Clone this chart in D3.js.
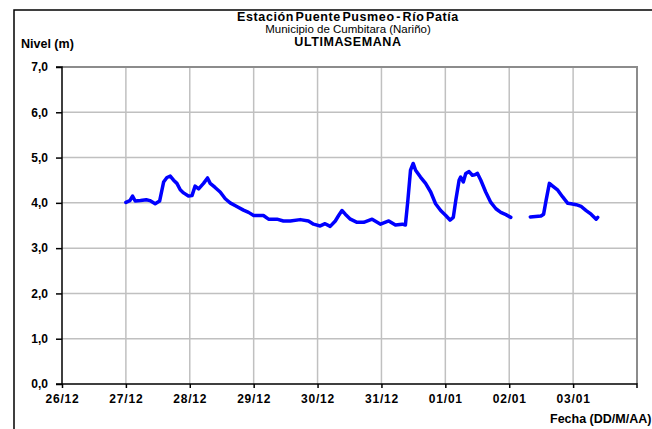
<html lang='es'>
    <head>
        <meta charset="utf-8">
        <title>Estación Puente Pusmeo</title>
        <script src="https://d3js.org/d3.v7.min.js" charset="utf-8"></script>
        <style>
        body{
          margin: 0;
          background: #fff;
          font-family: Arial, "Liberation Sans", sans-serif;
        }
        .tit { font-size: 11.5px; text-anchor: middle; }
        .bold { font-weight: bold; font-size: 12.5px; letter-spacing: 0.6px; }
        .axis text { font-size: 12px; font-weight: bold; font-family: Arial, "Liberation Sans", sans-serif; fill: #000; }
        .xaxis text { letter-spacing: 0.8px; }
        </style>
    </head>

    <body>
        <script>
            //Data (fecha / nivel en metros); null = sin datos
            var fechas = [
              "2016-12-27 00:00","2016-12-27 01:30","2016-12-27 02:30","2016-12-27 03:30","2016-12-27 05:30",
              "2016-12-27 07:40","2016-12-27 09:00","2016-12-27 11:00","2016-12-27 12:40","2016-12-27 14:10",
              "2016-12-27 15:25","2016-12-27 16:40","2016-12-27 17:55","2016-12-27 19:10","2016-12-27 20:25",
              "2016-12-27 21:40","2016-12-27 23:30","2016-12-28 00:50","2016-12-28 02:00","2016-12-28 03:20",
              "2016-12-28 05:10","2016-12-28 06:40","2016-12-28 07:40","2016-12-28 09:30","2016-12-28 11:25",
              "2016-12-28 13:20","2016-12-28 15:10","2016-12-28 17:40","2016-12-28 20:10","2016-12-28 22:05",
              "2016-12-29 00:00","2016-12-29 01:50","2016-12-29 03:40","2016-12-29 05:35","2016-12-29 08:45",
              "2016-12-29 11:10","2016-12-29 13:45","2016-12-29 17:30","2016-12-29 20:35","2016-12-29 22:30",
              "2016-12-30 01:00","2016-12-30 02:50","2016-12-30 04:45","2016-12-30 06:40","2016-12-30 07:55",
              "2016-12-30 09:10","2016-12-30 10:25","2016-12-30 12:20","2016-12-30 14:50","2016-12-30 17:20",
              "2016-12-30 20:30","2016-12-30 23:40","2016-12-31 02:45","2016-12-31 05:15","2016-12-31 07:50",
              "2016-12-31 09:00","2016-12-31 09:55","2016-12-31 10:55","2016-12-31 11:55","2016-12-31 12:50",
              "2016-12-31 14:40","2016-12-31 16:35","2016-12-31 18:30","2016-12-31 20:20","2016-12-31 22:15",
              "2017-01-01 00:10","2017-01-01 01:45","2017-01-01 03:00","2017-01-01 03:55","2017-01-01 05:10",
              "2017-01-01 05:45","2017-01-01 06:45","2017-01-01 07:40","2017-01-01 08:55","2017-01-01 10:10",
              "2017-01-01 11:05","2017-01-01 12:05","2017-01-01 13:20","2017-01-01 15:10","2017-01-01 17:05",
              "2017-01-01 19:00","2017-01-01 20:50","2017-01-01 22:45","2017-01-02 00:35","2017-01-02 04:00",
              "2017-01-02 07:55","2017-01-02 11:55","2017-01-02 12:55","2017-01-02 13:50","2017-01-02 15:05",
              "2017-01-02 16:20","2017-01-02 18:15","2017-01-02 20:05","2017-01-02 22:00","2017-01-02 23:15",
              "2017-01-03 01:10","2017-01-03 03:00","2017-01-03 04:55","2017-01-03 06:45","2017-01-03 08:40",
              "2017-01-03 09:15"
            ];
            var niveles = [
              4.01,4.05,4.15,4.04,4.05,
              4.07,4.05,3.98,4.04,4.46,
              4.56,4.59,4.50,4.43,4.29,
              4.22,4.15,4.16,4.37,4.31,
              4.43,4.55,4.43,4.34,4.24,
              4.09,4.00,3.92,3.84,3.79,
              3.72,3.72,3.72,3.64,3.64,
              3.60,3.60,3.63,3.60,3.53,
              3.49,3.54,3.48,3.60,3.72,
              3.83,3.75,3.64,3.57,3.57,
              3.64,3.53,3.60,3.51,3.53,
              3.51,4.05,4.72,4.87,4.72,
              4.57,4.43,4.24,3.98,3.83,
              3.72,3.62,3.68,4.05,4.50,
              4.57,4.46,4.65,4.69,4.61,
              4.62,4.65,4.50,4.24,4.01,
              3.87,3.79,3.74,3.68,null,
              3.69,3.71,3.75,4.05,4.43,
              4.37,4.28,4.13,3.99,3.98,
              3.96,3.92,3.83,3.75,3.64,
              3.68
            ];
            var yTicks = [0, 1, 2, 3, 4, 5, 6, 7];
            var xDomain = ["2016-12-26 00:00", "2017-01-04 00:00"];
            var titulos = ["Estación Puente Pusmeo - Río Patía", "Municipio de Cumbitara (Nariño)", "ULTIMA SEMANA"];

            var width = 652, height = 429;
            var mLeft = 62, mRight = 637, mTop = 67, mBottom = 384;

            var parse = d3.timeParse("%Y-%m-%d %H:%M");
            var datos = fechas.map(function(f, i){ return {t: parse(f), v: niveles[i]}; });

            var svg = d3.select("body").append("svg")
                        .attr("width", width)
                        .attr("height", height);

            var x = d3.scaleTime()
                      .domain(xDomain.map(parse))
                      .range([mLeft, mRight]);
            var y = d3.scaleLinear()
                      .domain([0, 7])
                      .range([mBottom, mTop]);

            //marco exterior
            svg.append("rect")
               .attr("x", 14).attr("y", 10)
               .attr("width", 700).attr("height", 500)
               .attr("fill", "none")
               .attr("stroke", "#000")
               .attr("stroke-width", 1.5);

            //grilla
            var dias = d3.timeDay.range(x.domain()[0], d3.timeDay.offset(x.domain()[1], 1));
            svg.append("g").selectAll("line")
               .data(dias.slice(1, -1))
               .enter().append("line")
               .attr("x1", function(d){ return x(d); })
               .attr("x2", function(d){ return x(d); })
               .attr("y1", mTop).attr("y2", mBottom)
               .attr("stroke", "#c0c0c0").attr("stroke-width", 1.5);
            svg.append("g").selectAll("line")
               .data(yTicks.slice(1, -1))
               .enter().append("line")
               .attr("x1", mLeft).attr("x2", mRight)
               .attr("y1", function(d){ return y(d); })
               .attr("y2", function(d){ return y(d); })
               .attr("stroke", "#c0c0c0").attr("stroke-width", 1.5);

            //borde superior y derecho del area
            svg.append("path")
               .attr("d", "M" + mLeft + "," + y(7) + "H" + x(x.domain()[1]) + "V" + mBottom)
               .attr("fill", "none")
               .attr("stroke", "#8c8c8c")
               .attr("stroke-width", 2);

            //serie
            var line = d3.line()
                         .defined(function(d){ return d.v !== null; })
                         .x(function(d){ return x(d.t); })
                         .y(function(d){ return y(d.v); });
            svg.append("path")
               .datum(datos)
               .attr("d", line)
               .attr("fill", "none")
               .attr("stroke", "#0000ff")
               .attr("stroke-width", 3.5)
               .attr("stroke-linejoin", "round")
               .attr("stroke-linecap", "round");

            //ejes
            svg.append("g")
               .attr("class", "axis")
               .attr("transform", "translate(" + mLeft + ",0)")
               .call(d3.axisLeft(y).tickValues(yTicks).tickSize(6).tickPadding(8)
                       .tickFormat(function(d){ return d3.format(".1f")(d).replace(".", ","); }))
               .call(function(g){ g.selectAll("line, path").attr("stroke", "#000").attr("stroke-width", 1.5); })
               .select(".domain").attr("d", "M-6," + mTop + "H0V" + mBottom + "H-6");

            svg.append("g")
               .attr("class", "axis xaxis")
               .attr("transform", "translate(0," + mBottom + ")")
               .call(d3.axisBottom(x).tickValues(dias.slice(0, -1)).tickSize(4).tickPadding(6)
                       .tickFormat(d3.timeFormat("%d/%m")))
               .call(function(g){ g.selectAll("line, path").attr("stroke", "#000").attr("stroke-width", 1.5); })
               .select(".domain").attr("d", "M" + mLeft + ",0H" + mRight + "V4");

            //textos
            svg.append("text").attr("class", "tit bold").attr("x", 348).attr("y", 20.5).attr("word-spacing", -2.5).text(titulos[0]);
            svg.append("text").attr("class", "tit").attr("x", 348).attr("y", 33).text(titulos[1]);
            svg.append("text").attr("class", "tit bold").attr("x", 348).attr("y", 45.5).attr("word-spacing", -4).text(titulos[2]);

            svg.append("text")
               .attr("x", 21).attr("y", 48)
               .attr("font-size", "12.5px").attr("font-weight", "bold")
               .text("Nivel (m)");
            svg.append("text")
               .attr("x", 550).attr("y", 423)
               .attr("font-size", "12.5px").attr("font-weight", "bold")
               .text("Fecha (DD/M/AA)");
        </script>
    </body>
</html>
